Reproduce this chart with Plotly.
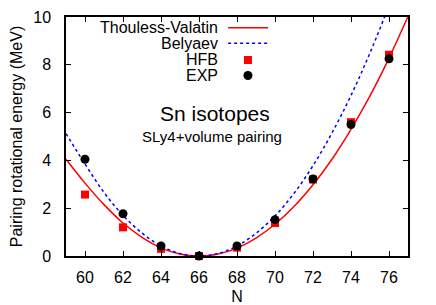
import plotly.graph_objects as go

# Data
N_pts = [60, 62, 64, 66, 68, 70, 72, 74, 76]
hfb = [2.57, 1.20, 0.30, 0.00, 0.35, 1.38, 3.20, 5.60, 8.42]
exp = [4.05, 1.77, 0.42, 0.00, 0.42, 1.52, 3.22, 5.50, 8.25]

N_curve = [59, 60, 61, 62, 63, 64, 65, 66, 67, 68, 69, 70, 71, 72, 73, 74, 75, 76, 77]
tv = [4.05, 3.05, 2.15, 1.38, 0.78, 0.34, 0.08, 0.00, 0.08, 0.33, 0.75, 1.33, 2.07, 2.98, 4.05, 5.30, 6.70, 8.28, 10.02]
bel = [5.12, 3.85, 2.66, 1.70, 0.96, 0.42, 0.10, 0.00, 0.10, 0.42, 0.95, 1.68, 2.62, 3.78, 5.15, 6.72, 8.50, 10.48, 12.65]

legend_labels = ["Thouless-Valatin", "Belyaev", "HFB", "EXP"]
x_ticks = [60, 62, 64, 66, 68, 70, 72, 74, 76]
y_ticks = [0, 2, 4, 6, 8, 10]

FONT = "Liberation Sans, Arial, Helvetica, sans-serif"
RED = "#ff0000"
BLUE = "#0000ff"

fig = go.Figure()
fig.add_trace(go.Scatter(x=N_curve, y=tv, mode="lines", line=dict(color=RED, width=1.5, shape="spline"),
                         name=legend_labels[0], showlegend=False))
fig.add_trace(go.Scatter(x=N_curve, y=bel, mode="lines", line=dict(color=BLUE, width=1.5, dash="dot", shape="spline"),
                         name=legend_labels[1], showlegend=False))
fig.add_trace(go.Scatter(x=N_pts, y=hfb, mode="markers", marker=dict(symbol="square", color=RED, size=8),
                         name=legend_labels[2], showlegend=False, cliponaxis=False))
fig.add_trace(go.Scatter(x=N_pts, y=exp, mode="markers", marker=dict(symbol="circle", color="black", size=9),
                         name=legend_labels[3], showlegend=False, cliponaxis=False))

# gnuplot-style legend: right-aligned labels, key samples to the right
ys = [0.9545, 0.890, 0.8201, 0.7552]
for lab, yy in zip(legend_labels, ys):
    fig.add_annotation(x=0.447, y=yy, xref="paper", yref="paper", text=lab, showarrow=False,
                       xanchor="right", yanchor="middle", borderpad=0,
                       font=dict(family=FONT, size=16, color="black"))
fig.add_shape(type="line", xref="paper", yref="paper", x0=0.474, x1=0.591, y0=ys[0], y1=ys[0],
              line=dict(color=RED, width=1.5))
fig.add_shape(type="line", xref="paper", yref="paper", x0=0.474, x1=0.591, y0=ys[1], y1=ys[1],
              line=dict(color=BLUE, width=1.5, dash="dot"))
fig.add_shape(type="rect", xref="paper", yref="paper", xsizemode="pixel", ysizemode="pixel",
              xanchor=0.532, yanchor=ys[2], x0=-4, x1=4, y0=-4, y1=4,
              fillcolor=RED, line=dict(width=0))
fig.add_shape(type="circle", xref="paper", yref="paper", xsizemode="pixel", ysizemode="pixel",
              xanchor=0.532, yanchor=ys[3], x0=-4.5, x1=4.5, y0=-4.5, y1=4.5,
              fillcolor="black", line=dict(width=0))

fig.add_annotation(x=0.436, y=0.598, xref="paper", yref="paper", text="Sn isotopes", showarrow=False,
                   xanchor="center", yanchor="middle", font=dict(family=FONT, size=21, color="black"))
fig.add_annotation(x=0.426, y=0.498, xref="paper", yref="paper", text="SLy4+volume pairing", showarrow=False,
                   xanchor="center", yanchor="middle", font=dict(family=FONT, size=15, color="black"))

axis_common = dict(showline=True, linecolor="black", linewidth=1.5, mirror="ticks", ticks="inside",
                   ticklen=5, tickwidth=1, tickcolor="black", showgrid=False, zeroline=False,
                   automargin=False, tickfont=dict(family=FONT, size=16, color="black"))
fig.update_xaxes(range=[59, 77], tickvals=x_ticks, ticktext=[str(v) for v in x_ticks],
                 title=dict(text="N", font=dict(family=FONT, size=16, color="black"), standoff=6),
                 ticklabelstandoff=6, **axis_common)
fig.update_yaxes(range=[0, 10], tickvals=y_ticks, ticktext=[str(v) for v in y_ticks],
                 title=dict(text="Pairing rotational energy (MeV)", font=dict(family=FONT, size=16, color="black"), standoff=18),
                 ticklabelstandoff=10, **axis_common)

# the page body has an 8px margin, so the figure is sized/offset to keep the plot box in place
fig.update_layout(width=428, height=297, margin=dict(l=58, r=28, t=9, b=49),
                  plot_bgcolor="white", paper_bgcolor="white", showlegend=False,
                  font=dict(family=FONT, size=15, color="black"))

fig.write_html("out.html")
